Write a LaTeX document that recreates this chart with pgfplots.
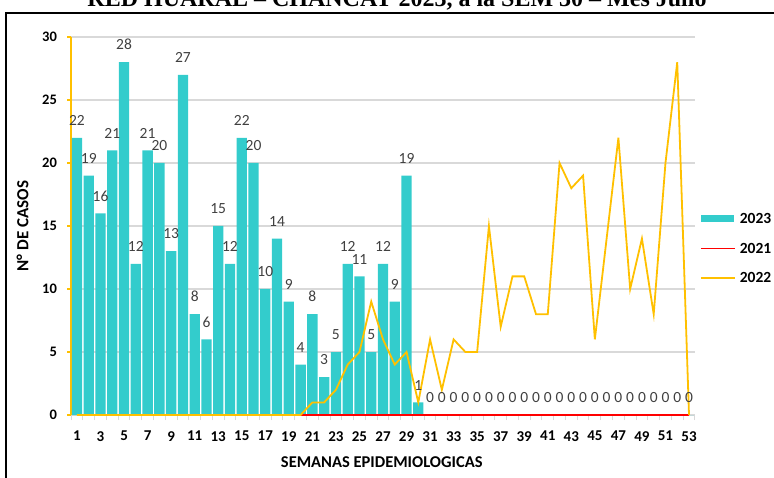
\documentclass[border=0pt]{standalone}
\usepackage{pgfplots}
\pgfplotsset{compat=1.18}
\usepackage{pgfplotstable}
\usepackage{fontspec}
\setmainfont{Carlito}
\newfontfamily\titlefont{Liberation Serif}
\definecolor{turq}{HTML}{33CCCC}
\definecolor{gold}{HTML}{FFC000}
\definecolor{gridgray}{HTML}{D9D9D9}
\definecolor{lblgray}{HTML}{404040}
\pgfplotstableread{
w a23 a21 a22
1 22 nan 0
2 19 nan 0
3 16 nan 0
4 21 nan 0
5 28 nan 0
6 12 nan 0
7 21 nan 0
8 20 nan 0
9 13 nan 0
10 27 nan 0
11 8 nan 0
12 6 nan 0
13 15 nan 0
14 12 nan 0
15 22 nan 0
16 20 nan 0
17 10 nan 0
18 14 nan 0
19 9 nan 0
20 4 0 0
21 8 0 1
22 3 0 1
23 5 0 2
24 12 0 4
25 11 0 5
26 5 0 9
27 12 0 6
28 9 0 4
29 19 0 5
30 1 0 1
31 0 0 6
32 0 0 2
33 0 0 6
34 0 0 5
35 0 0 5
36 0 0 15
37 0 0 7
38 0 0 11
39 0 0 11
40 0 0 8
41 0 0 8
42 0 0 20
43 0 0 18
44 0 0 19
45 0 0 6
46 0 0 14
47 0 0 22
48 0 0 10
49 0 0 14
50 0 0 8
51 0 0 20
52 0 0 28
53 0 0 0
}\datatable
\begin{document}
\begin{tikzpicture}
\useasboundingbox (0pt,0pt) rectangle (774pt,477pt);
\begin{axis}[
  scale only axis,
  width=623.8pt, height=378pt,
  at={(71.1pt,62pt)}, anchor=south west,
  xmin=0.5, xmax=53.5, ymin=0, ymax=30,
  clip=false,
  axis x line*=bottom, axis y line*=left,
  axis line style={-},
  x axis line style={gridgray, line width=1.2pt},
  y axis line style={gold, line width=1.5pt},
  xtick={1,3,...,53},
  minor xtick={0.5,1.5,...,53.5},
  major x tick style={draw=none},
  ytick={0,5,...,30},
  tick align=outside,
  major tick length=4pt,
  minor tick length=5pt,
  x tick style={gridgray, line width=1pt},
  y tick style={gold, line width=1.3pt},
  ymajorgrids,
  major grid style={gridgray, line width=1.2pt},
  /pgf/number format/assume math mode=true,
  xticklabel style={font=\bfseries\fontsize{15}{15}\selectfont, inner sep=0pt, text depth=0pt},
  yticklabel style={font=\bfseries\fontsize{14.5}{14.5}\selectfont, inner sep=0pt, text depth=0pt},
  yticklabel shift=10pt,
  xticklabel shift=12pt,
  xlabel={SEMANAS EPIDEMIOLOGICAS},
  ylabel={N° DE CASOS},
  every axis x label/.style={font=\bfseries\fontsize{16.5}{16.5}\selectfont, at={(axis description cs:0.498,-0.125)}, anchor=center},
  every axis y label/.style={font=\bfseries\fontsize{17}{17}\selectfont, at={(axis description cs:-0.078,0.5)}, anchor=center, rotate=90},
  legend style={draw=none, fill=none, at={(axis description cs:1.0082,0.5315)}, anchor=north west,
    inner sep=0pt, outer sep=0pt, row sep=19.7pt, column sep=4pt,
    nodes={inner sep=0pt, text height=9.8pt, text depth=0pt, font=\bfseries\fontsize{15.5}{15.5}\selectfont}},
  legend cell align=left,
  legend image code/.code={\draw[#1] (0pt,0pt) -- (34pt,0pt);},
]
\addplot[ybar, bar width=10.3pt, fill=turq, draw=none,
  nodes near coords,
  every node near coord/.append style={font=\fontsize{15.5}{15.5}\selectfont, color=lblgray, inner sep=0pt, text depth=0pt, yshift=12pt},
  legend image code/.code={\fill[turq] (0pt,-3.5pt) rectangle (33pt,3.5pt);}]
  table[x=w, y=a23] {\datatable};
\addlegendentry{2023}
\addplot[red, line width=1.8pt, mark=none] table[x=w, y=a21] {\datatable};
\addlegendentry{2021}
\addplot[gold, line width=1.8pt, mark=none] table[x=w, y=a22] {\datatable};
\addlegendentry{2022}
\end{axis}
\draw[black, line width=1.3pt] (774pt,464pt) -- (6pt,464pt) -- (6pt,-5pt);
\node[anchor=base, font=\titlefont\bfseries\fontsize{24}{24}\selectfont] at (397pt,470pt) {RED HUARAL – CHANCAY 2023, a la SEM 30 – Mes Julio};
\end{tikzpicture}
\end{document}
